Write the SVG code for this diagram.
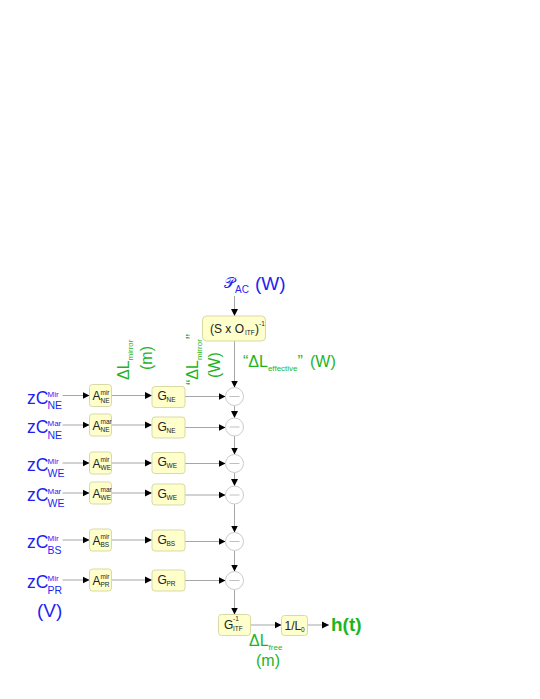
<svg xmlns="http://www.w3.org/2000/svg" width="540" height="699" viewBox="0 0 540 699">
<defs>
<marker id="ah" markerUnits="userSpaceOnUse" markerWidth="8" markerHeight="8" refX="7" refY="4" orient="auto">
<path d="M0,0.5 L7,4 L0,7.5 Z" fill="#000"/>
</marker>
<style>
text{font-family:"Liberation Sans",Arial,sans-serif;}
.box{fill:#ffffcc;stroke:#d9d9a6;stroke-width:1;}
.circ{fill:#fff;stroke:#cccccc;stroke-width:1;}
.dash{stroke:#c0c0c0;stroke-width:1;}
.ln{stroke:#a6a6a6;stroke-width:1;fill:none;marker-end:url(#ah);}
.blue{fill:#1f1ff2;}
.green{fill:#1eb41e;}
.zc{font-size:17.5px;}
.zsup{font-size:8px;}
.zsub{font-size:10.5px;}
.bt{font-size:12px;fill:#222;}
.bs{font-size:6.5px;fill:#222;}
.gl{font-size:16px;}
.gs{font-size:8px;}
</style>
</defs>
<g id="connectors">
<line class="ln" x1="234.5" y1="296" x2="234.5" y2="316"/>
<line class="ln" x1="234.5" y1="341" x2="234.5" y2="387.5"/>
<line class="ln" x1="234.5" y1="405.5" x2="234.5" y2="418"/>
<line class="ln" x1="234.5" y1="436" x2="234.5" y2="454.5"/>
<line class="ln" x1="234.5" y1="472.5" x2="234.5" y2="486"/>
<line class="ln" x1="234.5" y1="504" x2="234.5" y2="532.5"/>
<line class="ln" x1="234.5" y1="550.5" x2="234.5" y2="571.5"/>
<line class="ln" x1="234.5" y1="589.5" x2="234.5" y2="614.5"/>
<line class="ln" x1="62.5" y1="395.5" x2="89.5" y2="395.5"/>
<line class="ln" x1="111.5" y1="395.5" x2="152" y2="395.5"/>
<line class="ln" x1="185" y1="396.5" x2="225.5" y2="396.5"/>
<line class="ln" x1="62.5" y1="425" x2="89.5" y2="425"/>
<line class="ln" x1="111.5" y1="425" x2="152" y2="425"/>
<line class="ln" x1="185" y1="427.5" x2="225.5" y2="427.5"/>
<line class="ln" x1="62.5" y1="463" x2="89.5" y2="463"/>
<line class="ln" x1="111.5" y1="463" x2="152" y2="463"/>
<line class="ln" x1="185" y1="463.5" x2="225.5" y2="463.5"/>
<line class="ln" x1="62.5" y1="493" x2="89.5" y2="493"/>
<line class="ln" x1="111.5" y1="493" x2="152" y2="493"/>
<line class="ln" x1="185" y1="495" x2="225.5" y2="495"/>
<line class="ln" x1="62.5" y1="540" x2="89.5" y2="540"/>
<line class="ln" x1="111.5" y1="540" x2="152" y2="540"/>
<line class="ln" x1="185" y1="541.5" x2="225.5" y2="541.5"/>
<line class="ln" x1="62.5" y1="580" x2="89.5" y2="580"/>
<line class="ln" x1="111.5" y1="580" x2="152" y2="580"/>
<line class="ln" x1="185" y1="580.5" x2="225.5" y2="580.5"/>
<line class="ln" x1="250.5" y1="625" x2="281.5" y2="625"/>
<line class="ln" x1="307.5" y1="625" x2="329" y2="625"/>
</g>
<g id="P_AC">
<text x="224" y="288" class="blue" font-size="15" font-family="'DejaVu Serif','DejaVu Sans',serif">𝒫</text>
<text x="235" y="293" class="blue" font-size="10">AC</text>
<text x="255" y="290" class="blue" font-size="19">(W)</text>
</g>
<g id="SO">
<rect class="box" x="202.5" y="316" width="63" height="25" rx="4"/>
<text x="210" y="332.5" class="bt">(S x O</text>
<text x="245" y="335" class="bs">ITF</text>
<text x="255" y="332.5" class="bt">)</text>
<text x="259" y="326" class="bs">-1</text>
</g>
<g id="dLmirror_m">
<text transform="translate(129,380) rotate(-90)" class="green gl">ΔL<tspan class="gs" dy="4">mirror</tspan></text>
<text transform="translate(152,370) rotate(-90)" class="green gl">(m)</text>
</g>
<g id="dLmirror_W">
<text transform="translate(198,385) rotate(-90)" class="green gl">“ΔL<tspan class="gs" dy="4">mirror</tspan><tspan dy="-4">”</tspan></text>
<text transform="translate(220,378) rotate(-90)" class="green gl">(W)</text>
</g>
<g id="dLeff">
<text x="243" y="367" class="green gl">“ΔL<tspan class="gs" dy="4">effective</tspan><tspan dy="-4">”</tspan></text>
<text x="310" y="367" class="green gl">(W)</text>
</g>
<g id="row_NE_mir">
<text x="27" y="403.5" class="blue zc">zC</text>
<text x="47.5" y="396.5" class="blue zsup">Mir</text>
<text x="47.5" y="409" class="blue zsub">NE</text>
<rect class="box" x="89.5" y="384.5" width="22" height="22" rx="3"/>
<text x="92.5" y="400" class="bt">A</text>
<text x="100.5" y="394.5" class="bs">mir</text>
<text x="100.5" y="402.5" class="bs">NE</text>
<rect class="box" x="152" y="386.5" width="33" height="21" rx="3"/>
<text x="157.5" y="400" class="bt">G</text>
<text x="166.5" y="402" class="bs">NE</text>
<circle class="circ" cx="234.5" cy="396.5" r="9"/>
<line class="dash" x1="229.5" y1="396.5" x2="239.5" y2="396.5"/>
</g>
<g id="row_NE_mar">
<text x="27" y="433" class="blue zc">zC</text>
<text x="47.5" y="426" class="blue zsup">Mar</text>
<text x="47.5" y="438.5" class="blue zsub">NE</text>
<rect class="box" x="89.5" y="414" width="22" height="22" rx="3"/>
<text x="92.5" y="429.5" class="bt">A</text>
<text x="100.5" y="424" class="bs">mar</text>
<text x="100.5" y="432" class="bs">NE</text>
<rect class="box" x="152" y="417" width="33" height="21" rx="3"/>
<text x="157.5" y="430.5" class="bt">G</text>
<text x="166.5" y="432.5" class="bs">NE</text>
<circle class="circ" cx="234.5" cy="427" r="9"/>
<line class="dash" x1="229.5" y1="427" x2="239.5" y2="427"/>
</g>
<g id="row_WE_mir">
<text x="27" y="471" class="blue zc">zC</text>
<text x="47.5" y="464" class="blue zsup">Mir</text>
<text x="47.5" y="476.5" class="blue zsub">WE</text>
<rect class="box" x="89.5" y="452" width="22" height="22" rx="3"/>
<text x="92.5" y="467.5" class="bt">A</text>
<text x="100.5" y="462" class="bs">mir</text>
<text x="100.5" y="470" class="bs">WE</text>
<rect class="box" x="152" y="452.5" width="33" height="21" rx="3"/>
<text x="157.5" y="466" class="bt">G</text>
<text x="166.5" y="468" class="bs">WE</text>
<circle class="circ" cx="234.5" cy="463.5" r="9"/>
<line class="dash" x1="229.5" y1="463.5" x2="239.5" y2="463.5"/>
</g>
<g id="row_WE_mar">
<text x="27" y="501" class="blue zc">zC</text>
<text x="47.5" y="494" class="blue zsup">Mar</text>
<text x="47.5" y="506.5" class="blue zsub">WE</text>
<rect class="box" x="89.5" y="482" width="22" height="22" rx="3"/>
<text x="92.5" y="497.5" class="bt">A</text>
<text x="100.5" y="492" class="bs">mar</text>
<text x="100.5" y="500" class="bs">WE</text>
<rect class="box" x="152" y="484" width="33" height="21" rx="3"/>
<text x="157.5" y="497.5" class="bt">G</text>
<text x="166.5" y="499.5" class="bs">WE</text>
<circle class="circ" cx="234.5" cy="495" r="9"/>
<line class="dash" x1="229.5" y1="495" x2="239.5" y2="495"/>
</g>
<g id="row_BS">
<text x="27" y="548" class="blue zc">zC</text>
<text x="47.5" y="541" class="blue zsup">Mir</text>
<text x="47.5" y="553.5" class="blue zsub">BS</text>
<rect class="box" x="89.5" y="529" width="22" height="22" rx="3"/>
<text x="92.5" y="544.5" class="bt">A</text>
<text x="100.5" y="539" class="bs">mir</text>
<text x="100.5" y="547" class="bs">BS</text>
<rect class="box" x="152" y="530" width="33" height="21" rx="3"/>
<text x="157.5" y="543.5" class="bt">G</text>
<text x="166.5" y="545.5" class="bs">BS</text>
<circle class="circ" cx="234.5" cy="541.5" r="9"/>
<line class="dash" x1="229.5" y1="541.5" x2="239.5" y2="541.5"/>
</g>
<g id="row_PR">
<text x="27" y="588" class="blue zc">zC</text>
<text x="47.5" y="581" class="blue zsup">Mir</text>
<text x="47.5" y="593.5" class="blue zsub">PR</text>
<rect class="box" x="89.5" y="569" width="22" height="22" rx="3"/>
<text x="92.5" y="584.5" class="bt">A</text>
<text x="100.5" y="579" class="bs">mir</text>
<text x="100.5" y="587" class="bs">PR</text>
<rect class="box" x="152" y="570" width="33" height="21" rx="3"/>
<text x="157.5" y="583.5" class="bt">G</text>
<text x="166.5" y="585.5" class="bs">PR</text>
<circle class="circ" cx="234.5" cy="580.5" r="9"/>
<line class="dash" x1="229.5" y1="580.5" x2="239.5" y2="580.5"/>
</g>
<g id="unitV">
<text x="37" y="617" class="blue" font-size="19">(V)</text>
</g>
<g id="G_ITF">
<rect class="box" x="218.5" y="614.5" width="32" height="21" rx="3"/>
<text x="224" y="628.5" class="bt">G</text>
<text x="233" y="621" class="bs">-1</text>
<text x="233" y="631" class="bs">ITF</text>
</g>
<g id="invL0">
<rect class="box" x="281.5" y="615.5" width="26" height="20" rx="3"/>
<text x="284.5" y="629.5" class="bt">1/L</text>
<text x="301" y="632" class="bs">0</text>
</g>
<g id="ht">
<text x="331" y="631" class="green" font-size="19" font-weight="bold">h(t)</text>
</g>
<g id="dLfree">
<text x="249" y="646" class="green gl">ΔL<tspan class="gs" dy="4">free</tspan></text>
<text x="256" y="666" class="green gl">(m)</text>
</g>
</svg>
